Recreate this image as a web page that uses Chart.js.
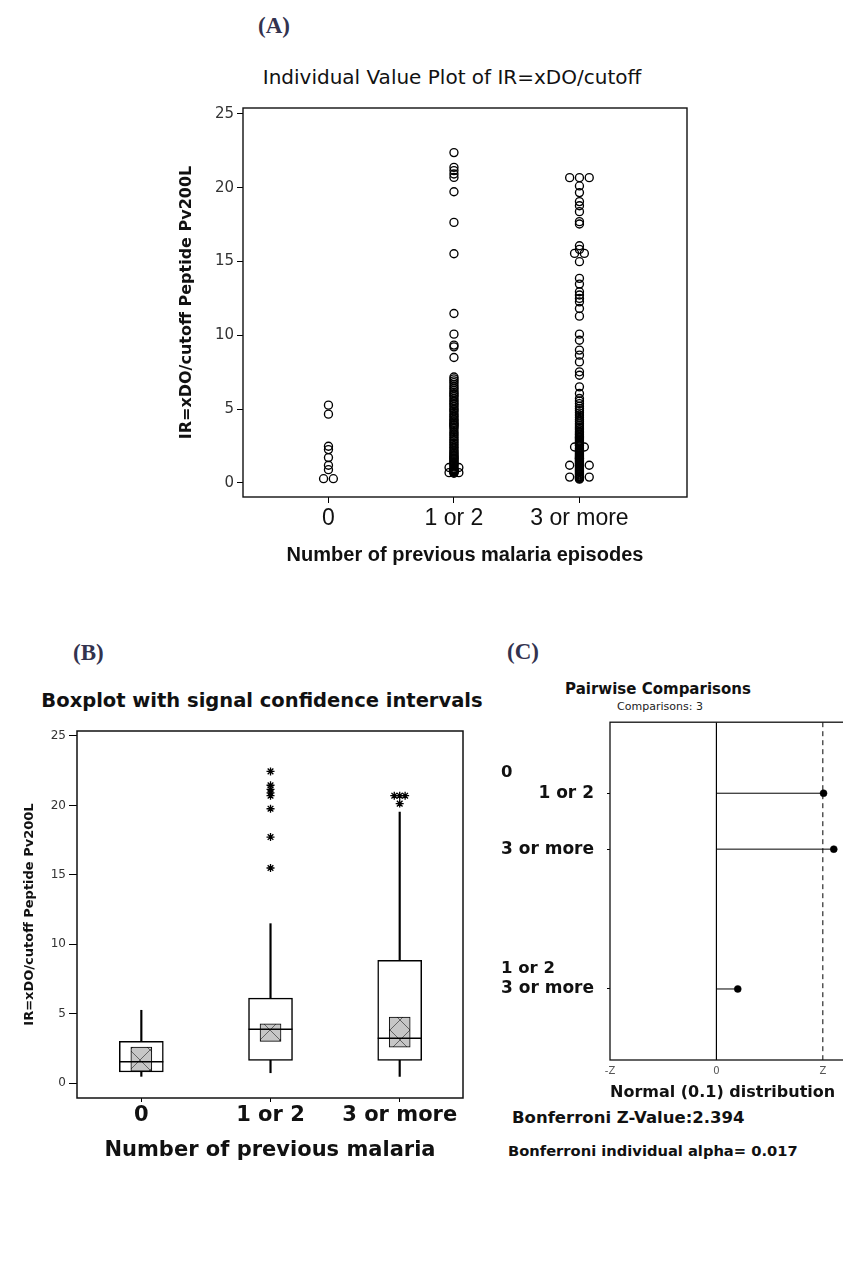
<!DOCTYPE html>
<html>
<head>
<meta charset="utf-8">
<script src="https://cdn.jsdelivr.net/npm/chart.js@4.4.1/dist/chart.umd.min.js"></script>
<style>
html,body{margin:0;padding:0;background:#fff;}
body{width:843px;height:1266px;overflow:hidden;position:relative;font-family:"DejaVu Sans",sans-serif;}
.abs{position:absolute;white-space:nowrap;line-height:1;}
.ctr{transform:translate(-50%,-50%);}
.mid{transform:translate(0,-50%);}
.lbl{font-family:"Liberation Serif",serif;font-weight:bold;font-size:23px;color:#33334f;}
canvas{position:absolute;}
</style>
</head>
<body>
<div class="abs lbl" style="left:258px;top:14px">(A)</div>
<div class="abs lbl" style="left:73px;top:641px">(B)</div>
<div class="abs lbl" style="left:507px;top:640px">(C)</div>

<div class="abs ctr" style="left:452px;top:77px;font-size:20px;color:#111">Individual Value Plot of IR=xDO/cutoff</div>
<div class="abs ctr" style="left:262px;top:701px;font-size:19.5px;font-weight:bold;color:#111">Boxplot with signal confidence intervals</div>
<div class="abs ctr" style="left:658px;top:689px;font-size:15px;font-weight:bold;color:#111">Pairwise Comparisons</div>
<div class="abs ctr" style="left:660px;top:706px;font-size:11px;color:#222">Comparisons: 3</div>
<div class="abs mid" style="left:512px;top:1118px;font-size:16.5px;font-weight:bold;color:#111">Bonferroni Z-Value:2.394</div>
<div class="abs mid" style="left:508px;top:1151px;font-size:14.7px;font-weight:bold;color:#111">Bonferroni individual alpha= 0.017</div>

<canvas id="cA" width="540" height="490" style="left:170px;top:95px"></canvas>
<canvas id="cB" width="490" height="470" style="left:0px;top:700px"></canvas>
<canvas id="cC" width="400" height="410" style="left:490px;top:699px"></canvas>

<script>
// ---------------- DATA ----------------
const categories = ['0', '1 or 2', '3 or more'];
const yTicks = [0, 5, 10, 15, 20, 25];

// Panel A: individual values
const valuesGroup0 = [5.27, 4.66, 2.49, 2.26, 1.72, 1.20, 0.90, 0.29, 0.29];
const valuesGroup1 = [22.38, 21.38, 21.16, 20.93, 20.70, 19.73, 17.65, 15.53, 11.48, 10.08, 9.34, 9.22, 8.50,
  7.18, 7.05, 6.92, 6.80, 6.66, 6.52, 6.40, 6.27, 6.15,
  6.05, 5.95, 5.85, 5.72, 5.60, 5.50, 5.38, 5.30, 5.18, 5.05, 4.95, 4.86, 4.72, 4.60, 4.52, 4.40, 4.30, 4.21, 4.12, 4.03, 3.95, 3.90,
  3.80, 3.70, 3.55, 3.42, 3.31, 3.20, 3.08, 2.95, 2.85, 2.72, 2.62, 2.50, 2.40, 2.30, 2.18, 2.10, 2.01, 1.92, 1.85, 1.77, 1.70, 1.65,
  1.58, 1.50, 1.42, 1.35, 1.28, 1.20, 1.12, 1.05, 1.05, 0.98, 0.95, 0.90, 0.88, 0.85, 0.82, 0.80, 0.78, 0.75, 0.72, 0.70, 0.70, 0.66];
const valuesGroup2 = [20.68, 20.68, 20.68, 20.12, 19.67, 19.06, 18.78, 18.38, 17.70, 17.54, 16.07, 15.82, 15.55, 15.55, 14.99,
  13.86, 13.47, 12.95, 12.73, 12.50, 12.27, 11.82, 11.30, 10.08, 9.67, 9.00,
  8.66, 8.20, 7.53, 7.30, 6.51, 6.06, 5.72, 5.55, 5.38, 5.20, 5.04, 4.90, 4.75, 4.60, 4.45, 4.30, 4.18, 4.05, 3.92, 3.80, 3.70, 3.60, 3.50, 3.40, 3.32, 3.25,
  3.15, 3.10, 3.05, 2.98, 2.90, 2.82, 2.75, 2.70, 2.66, 2.58, 2.52, 2.44, 2.44, 2.36, 2.28, 2.20, 2.12, 2.05, 1.98, 1.92, 1.86, 1.80, 1.75, 1.70, 1.66, 1.64,
  1.58, 1.52, 1.45, 1.40, 1.34, 1.28, 1.20, 1.20, 1.20, 1.15, 1.08, 1.00, 0.92, 0.85, 0.78, 0.70, 0.62, 0.55, 0.48, 0.42, 0.40, 0.40, 0.40, 0.35, 0.30, 0.26];

// Panel B: box plot statistics
const whiskerLow  = [0.48, 0.74, 0.48];
const q1          = [0.79, 1.63, 1.63];
const medians     = [1.54, 3.87, 3.22];
const q3          = [3.00, 6.12, 8.84];
const whiskerHigh = [5.24, 11.48, 19.52];
const ciLow       = [0.86, 3.00, 2.59];
const ciHigh      = [2.59, 4.27, 4.75];
const outliers0   = [];
const outliers1   = [22.45, 21.45, 21.16, 20.90, 20.70, 19.76, 17.72, 15.49];
const outliers2   = [20.70, 20.70, 20.70, 20.13];

// Panel C: pairwise comparisons
const compFirst  = ['0', '0', '1 or 2'];
const compSecond = ['1 or 2', '3 or more', '3 or more'];
const compZ      = [2.41, 2.64, 0.48];
const bonferroniZ = 2.394;
const zTickLabels = ['-Z', '0', 'Z'];

// ---------------- HELPERS ----------------
Chart.defaults.font.family = "'DejaVu Sans', sans-serif";
Chart.defaults.color = '#222';

const framePlugin = {
  id: 'frame',
  afterDatasetsDraw(chart, args, opts) {
    const {ctx, chartArea: a} = chart;
    ctx.save();
    ctx.strokeStyle = opts.color || '#000';
    ctx.lineWidth = opts.width || 1.4;
    ctx.strokeRect(a.left, a.top, a.right - a.left, a.bottom - a.top);
    ctx.restore();
  }
};
Chart.register(framePlugin);

// side-by-side placement of tied values (as the original software does)
function dodge(values, center, step) {
  const counts = {}, seen = {};
  values.forEach(v => { counts[v] = (counts[v] || 0) + 1; });
  return values.map(v => {
    const n = counts[v];
    const k = seen[v] = (seen[v] || 0) + 1;
    return {x: center + (k - 1 - (n - 1) / 2) * step, y: v};
  });
}
const fixW = w => s => { s.width = w; };
const fixH = h => s => { s.height = h; };
const common = {responsive: false, animation: false, devicePixelRatio: 1, events: []};
const noLegend = {legend: {display: false}, tooltip: {enabled: false}};

// ---------------- PANEL A ----------------
const groupsA = [valuesGroup0, valuesGroup1, valuesGroup2];
new Chart(document.getElementById('cA'), {
  type: 'scatter',
  data: {
    datasets: groupsA.map((vals, i) => ({
      data: dodge(vals, i, 0.078),
      pointStyle: 'circle', pointRadius: 4, pointBorderWidth: 1.35,
      pointBorderColor: '#000', pointBackgroundColor: 'rgba(0,0,0,0)'
    }))
  },
  options: Object.assign({}, common, {
    layout: {padding: {left: 7, top: 13, right: 23, bottom: 18}},
    plugins: Object.assign({}, noLegend, {frame: {width: 1.4, color: '#111'}}),
    scales: {
      x: {
        type: 'linear', min: -0.681, max: 2.857, offset: false,
        afterFit: fixH(70),
        afterBuildTicks: s => { s.ticks = categories.map((c, i) => ({value: i})); },
        ticks: {callback: v => categories[v], font: {size: 23, family: "'Liberation Sans', sans-serif"}, color: '#111', padding: 2, maxRotation: 0, autoSkip: false},
        grid: {offset: false, drawOnChartArea: false, drawTicks: true, tickLength: 6, tickColor: '#000'},
        border: {display: false},
        title: {display: true, text: 'Number of previous malaria episodes', font: {size: 20, weight: 'bold', family: "'Liberation Sans', sans-serif"}, color: '#111', padding: 0}
      },
      y: {
        type: 'linear', min: -0.95, max: 25.4,
        afterFit: fixW(66),
        afterBuildTicks: s => { s.ticks = yTicks.map(v => ({value: v})); },
        ticks: {font: {size: 15}, color: '#333', padding: 3},
        grid: {drawOnChartArea: false, tickLength: 6, tickColor: '#000'},
        border: {display: false},
        title: {display: true, text: 'IR=xDO/cutoff Peptide Pv200L', font: {size: 16, weight: 'bold'}, color: '#111', padding: 0}
      }
    }
  })
});

// ---------------- PANEL B ----------------
function hatchPattern(ctxTarget) {
  const c = document.createElement('canvas');
  c.width = 20; c.height = 20;
  const g = c.getContext('2d');
  g.fillStyle = '#c6c6c6'; g.fillRect(0, 0, 20, 20);
  g.strokeStyle = '#4a4a4a'; g.lineWidth = 0.8;
  g.beginPath(); g.moveTo(0, 0); g.lineTo(20, 20); g.moveTo(20, 0); g.lineTo(0, 20); g.stroke();
  return ctxTarget.createPattern(c, 'repeat');
}
const cB = document.getElementById('cB');
const outliersB = [outliers0, outliers1, outliers2];
new Chart(cB, {
  type: 'scatter',
  data: {
    datasets: [
      {type: 'bar', order: 5, grouped: false, barThickness: 1.5, backgroundColor: '#000', borderWidth: 0,
       data: categories.map((c, i) => ({x: i, y: [whiskerLow[i], whiskerHigh[i]]}))},
      {type: 'bar', order: 4, grouped: false, barThickness: 44, backgroundColor: '#fff', borderColor: '#000', borderWidth: 1.5, borderSkipped: false,
       data: categories.map((c, i) => ({x: i, y: [q1[i], q3[i]]}))},
      {type: 'bar', order: 3, grouped: false, barThickness: 21, backgroundColor: hatchPattern(cB.getContext('2d')), borderColor: '#000', borderWidth: 1, borderSkipped: false,
       data: categories.map((c, i) => ({x: i, y: [ciLow[i], ciHigh[i]]}))},
      {type: 'scatter', order: 2, pointStyle: 'line', pointRadius: 22, pointBorderWidth: 1.5, pointBorderColor: '#000',
       data: categories.map((c, i) => ({x: i, y: medians[i]}))},
      {type: 'scatter', order: 1, pointStyle: 'star', pointRadius: 4, pointBorderWidth: 1.3, pointBorderColor: '#000',
       data: outliersB.flatMap((vals, i) => dodge(vals, i, 0.042))}
    ]
  },
  options: Object.assign({}, common, {
    layout: {padding: {left: 22, top: 31, right: 27, bottom: 7}},
    plugins: Object.assign({}, noLegend, {frame: {width: 1.5, color: '#111'}}),
    scales: {
      x: {
        type: 'linear', min: -0.498, max: 2.49, offset: false,
        afterFit: fixH(65),
        afterBuildTicks: s => { s.ticks = categories.map((c, i) => ({value: i})); },
        ticks: {callback: v => categories[v], font: {size: 21, weight: 'bold'}, color: '#111', padding: 1, maxRotation: 0, autoSkip: false},
        grid: {offset: false, drawOnChartArea: false, drawTicks: true, tickLength: 4, tickColor: '#000'},
        border: {display: false},
        title: {display: true, text: 'Number of previous malaria', font: {size: 21, weight: 'bold'}, color: '#111', padding: 0}
      },
      y: {
        type: 'linear', min: -1.08, max: 25.36,
        afterFit: fixW(55),
        afterBuildTicks: s => { s.ticks = yTicks.map(v => ({value: v})); },
        ticks: {font: {size: 12}, color: '#333', padding: 3},
        grid: {drawOnChartArea: false, tickLength: 8, tickColor: '#000'},
        border: {display: false},
        title: {display: true, text: 'IR=xDO/cutoff Peptide Pv200L', font: {size: 13, weight: 'bold'}, color: '#111', padding: 0}
      }
    }
  })
});

// ---------------- PANEL C ----------------
const rowPos = [];
{
  let p = 0;
  compFirst.forEach((g, i) => {
    if (i > 0) p += (g === compFirst[i - 1]) ? 1 : 2.5;
    rowPos.push(p);
  });
}
const yMinC = -1.27, yMaxC = 4.77;
const headerPlugin = {
  id: 'groupHeaders',
  afterDraw(chart) {
    const y = chart.scales.y, ctx = chart.ctx;
    ctx.save();
    ctx.font = "bold 16.5px 'DejaVu Sans'";
    ctx.fillStyle = '#111';
    ctx.textBaseline = 'middle';
    ctx.textAlign = 'left';
    compFirst.forEach((g, i) => {
      if (i === 0 || g !== compFirst[i - 1]) ctx.fillText(g, 11, y.getPixelForValue(rowPos[i] - 0.36));
    });
    ctx.restore();
  }
};
new Chart(document.getElementById('cC'), {
  type: 'scatter',
  data: {
    datasets: [
      {showLine: true, pointRadius: 0, borderColor: '#000', borderWidth: 1.2,
       data: [{x: 0, y: yMinC}, {x: 0, y: yMaxC}]},
      {showLine: true, pointRadius: 0, borderColor: '#000', borderWidth: 1, borderDash: [5, 4],
       data: [{x: bonferroniZ, y: yMinC}, {x: bonferroniZ, y: yMaxC}]},
      ...compZ.map((z, i) => ({showLine: true, pointRadius: 0, borderColor: '#000', borderWidth: 1,
       data: [{x: 0, y: rowPos[i]}, {x: z, y: rowPos[i]}]})),
      {pointStyle: 'circle', pointRadius: 3.5, pointBackgroundColor: '#000', pointBorderColor: '#000', pointBorderWidth: 0.5,
       data: compZ.map((z, i) => ({x: z, y: rowPos[i]}))}
    ]
  },
  options: Object.assign({}, common, {
    layout: {padding: {left: 0, top: 23, right: 10, bottom: 7}},
    plugins: Object.assign({}, noLegend, {frame: {width: 1.3, color: '#111'}}),
    scales: {
      x: {
        type: 'linear', min: -bonferroniZ, max: 3.68,
        afterFit: fixH(42),
        afterBuildTicks: s => { s.ticks = [-bonferroniZ, 0, bonferroniZ].map(v => ({value: v})); },
        ticks: {callback: (v, i) => zTickLabels[i], font: {size: 10}, color: '#555', padding: 5, maxRotation: 0, autoSkip: false},
        grid: {display: true, drawOnChartArea: false, drawTicks: false},
        border: {display: false},
        title: {display: true, align: 'start', text: 'Normal (0.1) distribution', font: {size: 16, weight: 'bold'}, color: '#111', padding: 0}
      },
      y: {
        type: 'linear', reverse: true, min: yMinC, max: yMaxC,
        afterFit: fixW(120),
        afterBuildTicks: s => { s.ticks = rowPos.map(v => ({value: v})); },
        ticks: {callback: (v, i) => compSecond[i], font: {size: 17, weight: 'bold'}, color: '#111', padding: 13, autoSkip: false},
        grid: {drawOnChartArea: false, tickLength: 3, tickColor: '#000'},
        border: {display: false}
      }
    }
  }),
  plugins: [headerPlugin]
});
</script>
</body>
</html>
